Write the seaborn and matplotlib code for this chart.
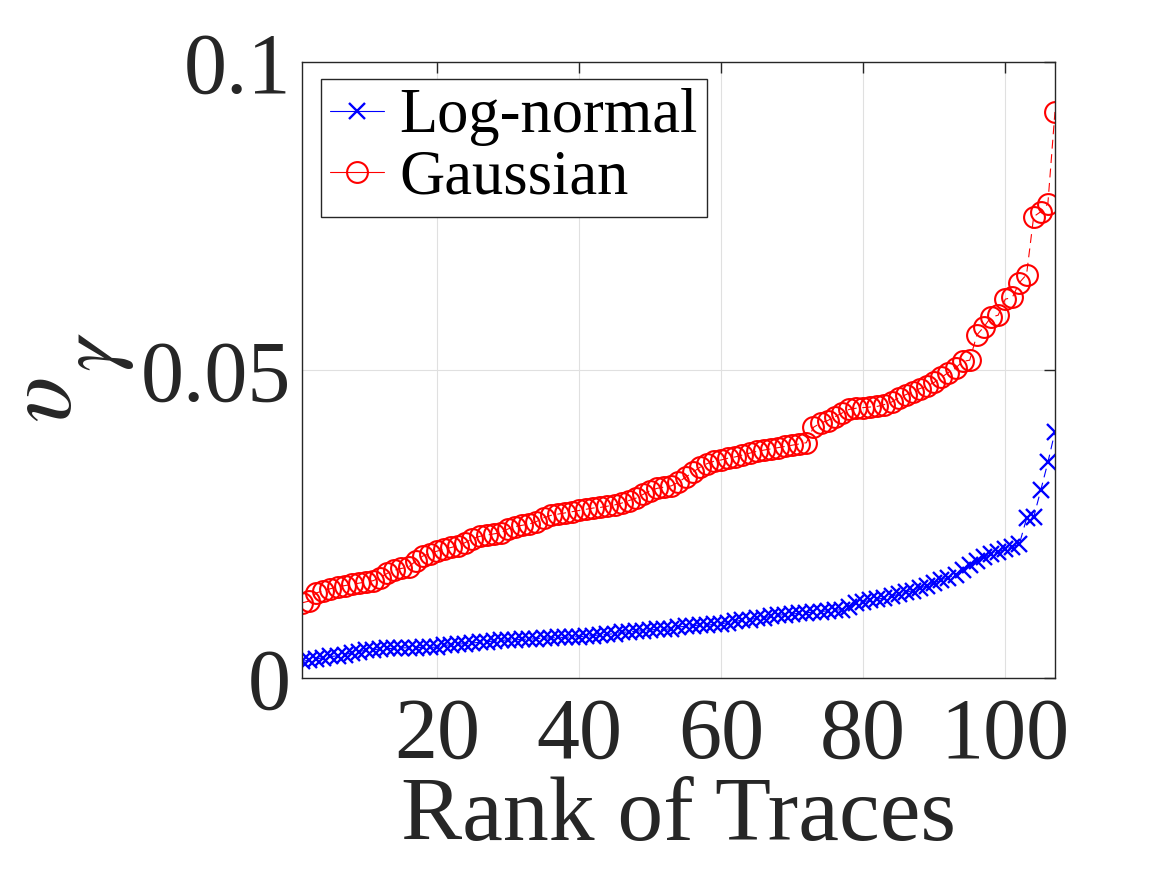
import numpy as np
import pandas as pd
import matplotlib
matplotlib.use("Agg")
import matplotlib.pyplot as plt
import seaborn as sns

# values, one per trace, sorted by rank
lognormal = [
    0.0027, 0.0029, 0.0031, 0.0033, 0.0035, 0.0036, 0.0038, 0.0041, 0.0043, 0.0045,
    0.0046, 0.0047, 0.0048, 0.0048, 0.0049, 0.0049, 0.0049, 0.0050, 0.0050, 0.0050,
    0.0053, 0.0054, 0.0055, 0.0056, 0.0057, 0.0058, 0.0059, 0.0060, 0.0061, 0.0062,
    0.0062, 0.0063, 0.0063, 0.0064, 0.0065, 0.0065, 0.0066, 0.0066, 0.0067, 0.0067,
    0.0068, 0.0069, 0.0070, 0.0071, 0.0072, 0.0074, 0.0075, 0.0076, 0.0077, 0.0078,
    0.0079, 0.0079, 0.0080, 0.0083, 0.0084, 0.0085, 0.0086, 0.0086, 0.0087, 0.0088,
    0.0090, 0.0092, 0.0094, 0.0095, 0.0097, 0.0098, 0.0100, 0.0102, 0.0103, 0.0104,
    0.0105, 0.0106, 0.0107, 0.0108, 0.0109, 0.0110, 0.0111, 0.0115, 0.0122, 0.0124,
    0.0126, 0.0128, 0.0130, 0.0133, 0.0136, 0.0139, 0.0142, 0.0146, 0.0150, 0.0155,
    0.0159, 0.0163, 0.0168, 0.0176, 0.0183, 0.0190, 0.0196, 0.0201, 0.0205, 0.0209,
    0.0213, 0.0218, 0.0259, 0.0261, 0.0305, 0.0350, 0.0400,
]
gaussian = [
    0.0122, 0.0125, 0.0138, 0.0142, 0.0145, 0.0148, 0.0150, 0.0152, 0.0154, 0.0156,
    0.0158, 0.0163, 0.0170, 0.0175, 0.0178, 0.0180, 0.0190, 0.0198, 0.0202, 0.0206,
    0.0209, 0.0212, 0.0215, 0.0220, 0.0226, 0.0230, 0.0232, 0.0234, 0.0236, 0.0242,
    0.0246, 0.0248, 0.0250, 0.0254, 0.0260, 0.0264, 0.0266, 0.0268, 0.0270, 0.0272,
    0.0274, 0.0276, 0.0277, 0.0279, 0.0281, 0.0284, 0.0288, 0.0292, 0.0298, 0.0304,
    0.0308, 0.0310, 0.0312, 0.0318, 0.0326, 0.0334, 0.0342, 0.0348, 0.0352, 0.0354,
    0.0357, 0.0359, 0.0362, 0.0365, 0.0368, 0.0370, 0.0372, 0.0374, 0.0376, 0.0378,
    0.0380, 0.0382, 0.0407, 0.0414, 0.0418, 0.0424, 0.0430, 0.0436, 0.0438, 0.0439,
    0.0440, 0.0441, 0.0444, 0.0448, 0.0455, 0.0460, 0.0465, 0.0470, 0.0474, 0.0480,
    0.0488, 0.0496, 0.0503, 0.0514, 0.0516, 0.0557, 0.0570, 0.0586, 0.0589, 0.0615,
    0.0618, 0.0642, 0.0655, 0.0749, 0.0757, 0.0770, 0.0919,
]
ranks = np.arange(1, len(gaussian) + 1)

xticks = [20, 40, 60, 80, 100]
yticks = [0, 0.05, 0.1]
yticklabels = ["0", "0.05", "0.1"]

sns.set_style("white")
plt.rcParams["font.family"] = ["Liberation Serif", "DejaVu Serif"]
plt.rcParams["mathtext.fontset"] = "stix"

dark = "#262626"
dash = (0, (8, 5))   # thin dashed connecting line, like the original

fig = plt.figure(figsize=(11.67, 8.75), dpi=100)
ax = fig.add_axes([0.2588, 0.2251, 0.6452, 0.704])

sns.lineplot(x=ranks, y=lognormal, ax=ax, color="blue", lw=0.8, linestyle=dash,
             marker="x", markersize=11, markeredgewidth=1.7,
             markeredgecolor="blue", label="Log-normal", sort=False)
sns.lineplot(x=ranks, y=gaussian, ax=ax, color="red", lw=0.8, linestyle=dash,
             marker="o", markersize=15, markerfacecolor="none",
             markeredgecolor="red", markeredgewidth=1.5,
             label="Gaussian", sort=False)

ax.set_xlim(1, len(ranks))
ax.set_ylim(0, 0.1)
ax.set_xticks(xticks)
ax.set_xticklabels([str(t) for t in xticks])
ax.set_yticks(yticks)
ax.set_yticklabels(yticklabels)

ax.grid(True, color="#e0e0e0", lw=0.8)
ax.set_axisbelow(True)
for s in ax.spines.values():
    s.set_color(dark)
    s.set_linewidth(1.0)
ax.tick_params(direction="in", top=True, right=True, length=8, width=1,
               color=dark, labelcolor=dark, labelsize=62)
ax.tick_params(axis="y", pad=8)
ax.tick_params(axis="x", pad=14)

ax.set_xlabel("Rank of Traces", fontsize=66, color=dark, labelpad=0)
ax.set_ylabel("")

# y label: upsilon with a low subscript gamma, as in the original
fig.text(48 / 1167, 1 - 400 / 875, r"$\upsilon$", rotation=90, fontsize=70,
         color=dark, ha="center", va="center")
fig.text(96 / 1167, 1 - 352 / 875, r"$\gamma$", rotation=90, fontsize=62,
         color=dark, ha="center", va="center")

leg = ax.legend(loc="upper left", bbox_to_anchor=(321 / 1167, 1 - 79 / 875),
                bbox_transform=fig.transFigure, fontsize=45, frameon=True,
                fancybox=False, edgecolor=dark, framealpha=1,
                handlelength=0.85, handletextpad=0.25, labelspacing=0.05,
                borderpad=0.15, borderaxespad=0)
leg.get_frame().set_linewidth(1.0)
for line in leg.get_lines():
    line.set_linestyle("-")
for t in leg.get_texts():
    t.set_color("black")

fig.savefig("out.png", dpi=100)
